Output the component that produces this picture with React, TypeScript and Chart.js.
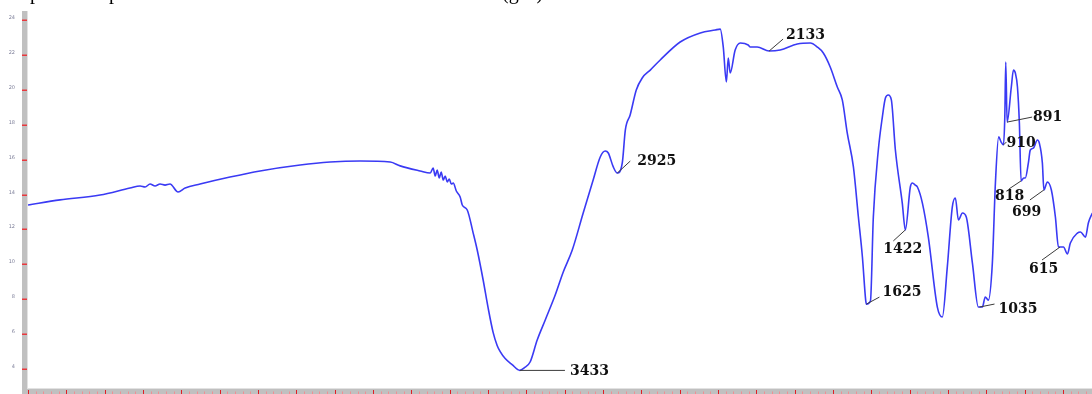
import React, { useEffect, useRef } from "react";
import { Chart, registerables } from "chart.js";

Chart.register(...registerables);

// Spectrum: wavenumber (cm-1) and transmittance (a.u.)
const wavenumbers = [
  6000, 5833, 5624, 5468, 5415, 5389, 5363, 5337, 5311, 5285, 5259, 5217, 5180, 5102, 4946, 4789,
  4580, 4424, 4267, 4110, 4058, 3954, 3901, 3886, 3875, 3865, 3854, 3844, 3833, 3823, 3812, 3802,
  3791, 3781, 3765, 3745, 3734, 3708, 3677, 3656, 3625, 3599, 3573, 3552, 3536, 3510, 3474, 3433,
  3411, 3380, 3343, 3301, 3249, 3207, 3160, 3103, 3051, 3014, 2988, 2972, 2946, 2925, 2899, 2883,
  2858, 2826, 2795, 2753, 2701, 2597, 2492, 2414, 2388, 2372, 2356, 2346, 2336, 2310, 2283, 2242,
  2231, 2195, 2133, 2075, 1986, 1918, 1881, 1850, 1814, 1777, 1751, 1725, 1693, 1667, 1646, 1629,
  1625, 1604, 1589, 1563, 1542, 1526, 1511, 1495, 1474, 1438, 1422, 1396, 1385, 1370, 1359, 1333,
  1302, 1255, 1229, 1203, 1177, 1161, 1145, 1124, 1104, 1072, 1041, 1035, 1020, 1005, 989, 968,
  952, 935, 922, 910, 903, 898, 891, 869, 858, 848, 837, 827, 818, 804, 796, 780,
  770, 754, 733, 723, 707, 699, 681, 660, 639, 623, 615, 597, 576, 561, 524, 508,
  482, 467, 446,
];
const transmittance = [
  13.4, 13.69, 13.97, 14.37, 14.49, 14.43, 14.6, 14.49, 14.6, 14.54, 14.6, 14.14, 14.37, 14.6, 15.0, 15.35,
  15.69, 15.86, 15.92, 15.86, 15.64, 15.35, 15.23, 15.52, 15.06, 15.4, 14.95, 15.29, 14.83, 15.06, 14.72, 14.89,
  14.6, 14.66, 14.2, 13.86, 13.4, 13.11, 11.79, 10.82, 9.1, 7.5, 6.1, 5.35, 5.0, 4.6, 4.25, 3.92,
  4.06, 4.4, 5.66, 6.81, 8.24, 9.56, 10.82, 12.94, 14.83, 16.15, 16.49, 16.38, 15.58, 15.23, 15.81, 17.7,
  18.56, 19.99, 20.68, 21.13, 21.71, 22.74, 23.26, 23.43, 23.48, 22.45, 20.45, 21.82, 20.96, 22.28, 22.68, 22.57,
  22.45, 22.45, 22.22, 22.28, 22.62, 22.68, 22.45, 22.11, 21.31, 20.16, 19.42, 17.52, 15.58, 12.71, 10.42, 7.95,
  7.72, 7.9, 12.71, 16.55, 18.44, 19.53, 19.7, 19.42, 16.55, 13.51, 11.97, 14.43, 14.66, 14.54, 14.43, 13.51,
  11.56, 7.55, 6.98, 9.85, 13.28, 13.8, 12.54, 12.94, 12.71, 10.07, 7.55, 7.55, 7.55, 8.13, 7.95, 10.07,
  14.66, 17.3, 17.0, 16.84, 18.44, 21.59, 18.15, 20.16, 21.13, 20.96, 20.16, 18.1, 14.78, 14.95, 14.95, 15.81,
  16.55, 16.66, 17.12, 16.95, 15.81, 14.26, 14.72, 14.26, 12.71, 10.99, 10.99, 10.99, 10.59, 11.22, 11.79, 11.85,
  11.56, 12.37, 12.94,
];

// Peak labels
const peakLabels = ["3433", "2925", "2133", "1625", "1422", "1035", "910", "891", "818", "699", "615"];
const peakWavenumbers = [3433, 2925, 2133, 1625, 1422, 1035, 910, 891, 818, 699, 615];

// Y tick labels
const yTickValues = [24, 22, 20, 18, 16, 14, 12, 10, 8, 6, 4];

// Layout of the label leaders (pixel offsets from the peak point): [lineDx, lineDy, textDx, textDy]
const labelLayout: number[][] = [
  [45, 0, 50, 1],
  [13, -12, 20, -12],
  [14, -12, 17, -16],
  [13, -7, 16, -12],
  [-12, 11, -22, 19],
  [15, -3, 19, 2],
  [3, -3, 3, -2],
  [25, -5, 26, -5],
  [-12, 8, -26, 15],
  [-14, 10, -32, 22],
  [-18, 13, -31, 22],
];

function interpAt(w: number): number {
  for (let i = 0; i < wavenumbers.length - 1; i++) {
    const a = wavenumbers[i];
    const b = wavenumbers[i + 1];
    if (w <= a && w >= b) {
      const t = a === b ? 0 : (a - w) / (a - b);
      return transmittance[i] + t * (transmittance[i + 1] - transmittance[i]);
    }
  }
  return transmittance[transmittance.length - 1];
}

const framePlugin = {
  id: "frame",
  afterDraw(chart: any) {
    const ctx = chart.ctx as CanvasRenderingContext2D;
    const xs = chart.scales.x;
    const ys = chart.scales.y;
    const area = chart.chartArea;
    ctx.save();
    // top cut-off serif text (only descenders visible)
    ctx.fillStyle = "#000";
    ctx.font = '20px "Liberation Serif"';
    ctx.textBaseline = "alphabetic";
    ctx.textAlign = "left";
    const uW = ctx.measureText("u").width;
    ctx.fillText("up", 30 - uW, -1);
    ctx.fillText("peaks", 109, -1);
    ctx.fillText("(g/L)", 502, -1);

    // left axis bar
    ctx.fillStyle = "#c0c0c0";
    ctx.fillRect(22, area.top, 5, chart.height - area.top);
    ctx.fillStyle = "#e2e2e2";
    ctx.fillRect(27, area.top, 1, area.bottom - area.top);
    // bottom axis bar
    ctx.fillStyle = "#e2e2e2";
    ctx.fillRect(area.left, area.bottom - 1, area.right - area.left, 1);
    ctx.fillStyle = "#c0c0c0";
    ctx.fillRect(22, area.bottom, area.right - 22, chart.height - area.bottom);

    // y ticks + labels
    ctx.font = '5px "DejaVu Sans"';
    ctx.textAlign = "right";
    ctx.textBaseline = "middle";
    yTickValues.forEach((v) => {
      const py = Math.round(ys.getPixelForValue(v));
      ctx.fillStyle = "#e8383d";
      ctx.fillRect(22, py - 0.5, 5, 1.5);
      ctx.fillStyle = "#7d7f99";
      ctx.fillText(String(v), 15, py - 2.5);
    });

    // x ticks: major every 200, minor every 40
    for (let w = 6000; w >= xs.min; w -= 40) {
      const px = Math.round(xs.getPixelForValue(w)) + 0.5;
      const major = w % 200 === 0;
      ctx.strokeStyle = major ? "#e01e25" : "#ee8f93";
      ctx.lineWidth = 1;
      ctx.beginPath();
      ctx.moveTo(px, major ? area.bottom + 1 : area.bottom + 2.5);
      ctx.lineTo(px, chart.height);
      ctx.stroke();
    }

    // peak annotations
    ctx.font = 'bold 14px "DejaVu Serif"';
    ctx.textAlign = "left";
    ctx.textBaseline = "middle";
    peakWavenumbers.forEach((w, i) => {
      const px = xs.getPixelForValue(w);
      const py = ys.getPixelForValue(interpAt(w));
      const [ldx, ldy, tdx, tdy] = labelLayout[i];
      ctx.strokeStyle = "#3a3a3a";
      ctx.lineWidth = 1;
      ctx.beginPath();
      ctx.moveTo(px, py);
      ctx.lineTo(px + ldx, py + ldy);
      ctx.stroke();
      ctx.fillStyle = "#111";
      ctx.fillText(peakLabels[i], px + tdx, py + tdy);
    });
    ctx.restore();
  },
};

export default function App() {
  const ref = useRef<HTMLCanvasElement | null>(null);
  useEffect(() => {
    if (!ref.current) return;
    const points = wavenumbers.map((w, i) => ({ x: w, y: transmittance[i] }));
    const chart = new Chart(ref.current, {
      type: "line",
      data: {
        datasets: [
          {
            data: points,
            borderColor: "#3a3af4",
            borderWidth: 1.6,
            pointRadius: 0,
            cubicInterpolationMode: "monotone",
            fill: false,
          },
        ],
      },
      options: {
        animation: false,
        responsive: false,
        devicePixelRatio: 1,
        layout: { padding: { left: 28, right: 0, top: 11, bottom: 5 } },
        plugins: { legend: { display: false }, tooltip: { enabled: false } },
        scales: {
          x: { type: "linear", reverse: true, min: 448, max: 6000, display: false },
          y: { type: "linear", min: 2.854, max: 24.516, display: false },
        },
      },
      plugins: [framePlugin],
    });
    return () => chart.destroy();
  }, []);
  return (
    <div style={{ position: "absolute", left: 0, top: 0, width: 1092, height: 394, background: "#fff" }}>
      <canvas ref={ref} width={1092} height={394} style={{ display: "block", width: 1092, height: 394 }} />
    </div>
  );
}
